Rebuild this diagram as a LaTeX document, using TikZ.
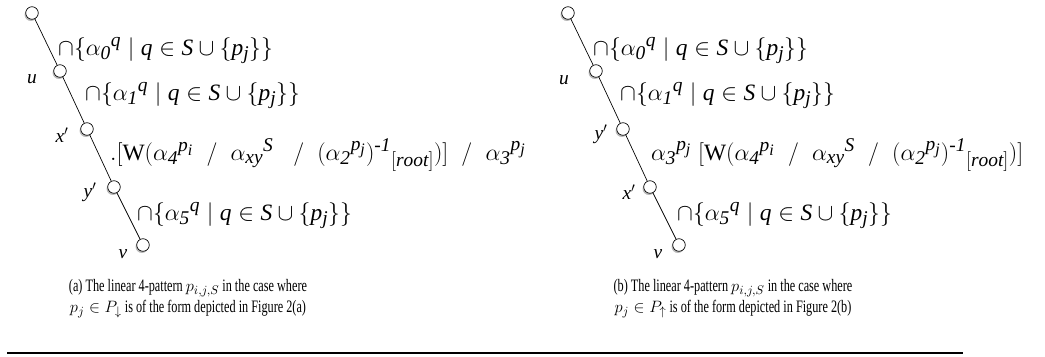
\documentclass[tikz,border=0pt]{standalone}
\usepackage{amsmath,amssymb}
\usepackage{fontspec}
\setmainfont{Liberation Serif}
\newfontfamily\capfont[FakeStretch=0.7]{Liberation Serif}
\usepackage{tikz}
\usetikzlibrary{shadows}
\DeclareMathSizes{20.5}{20.5}{17}{14}

\begin{document}
\begin{tikzpicture}[
  x=0.875pt, y=-0.875pt,
  vertex/.style={circle, draw, fill=white, line width=0.6pt,
    minimum size=11pt, inner sep=0pt,
    drop shadow={shadow xshift=-1pt, shadow yshift=-1.5pt, opacity=0.55}},
  vname/.style={font=\fontsize{17}{19}\selectfont\itshape, inner sep=0pt},
  elabel/.style={anchor=base west, font=\fontsize{20.5}{22}\selectfont, inner sep=0pt},
  edge/.style={line width=0.6pt},
  caption/.style={align=center, font=\capfont\fontsize{15.3}{18.5}\selectfont, inner sep=0pt},
]
\useasboundingbox (0,0) rectangle (1045,356);

% (a): x' above y'
\node[vertex] at (32,13) (atop) {};
\node[vertex] at (60,71) (au) {};
\node[vertex] at (87,129) (ax) {};
\node[vertex] at (114,187) (ay) {};
\node[vertex] at (143,245) (av) {};

\node[vname] at (32,79) (lau) {u};
\node[vname] at (62,135) (lax) {x$'$};
\node[vname] at (90,192) (lay) {y$'$};
\node[vname] at (123,254) (lav) {v};

\draw[edge] (atop) -- (au);
\draw[edge] (au) -- (ax);
\draw[edge] (ax) -- (ay);
\draw[edge] (ay) -- (av);

\node[elabel] at (58,55) (ea0) {$\mathit{\cap\{{\alpha_0}^q \mid q \in S \cup \{p_j\}\}}$};
\node[elabel] at (85,100) (ea1) {$\mathit{\cap\{{\alpha_1}^q \mid q \in S \cup \{p_j\}\}}$};
\node[elabel] at (110,160) (ea2) {$\mathit{.[\mathrm{W}({\alpha_4}^{p_i}\;\;/\;\;{\alpha_{xy}}^S\;\;\;/\;\;({\alpha_2}^{p_j})^{\textit{-1}}{}_{[root]})]\;\;/\;\;{\alpha_3}^{p_j}}$};
\node[elabel] at (137,220) (ea3) {$\mathit{\cap\{{\alpha_5}^q \mid q \in S \cup \{p_j\}\}}$};

% (b): y' above x'
\node[vertex] at (568,13) (btop) {};
\node[vertex] at (596,71) (bu) {};
\node[vertex] at (623,129) (by) {};
\node[vertex] at (650,187) (bx) {};
\node[vertex] at (679,245) (bv) {};

\node[vname] at (564,80) (lbu) {u};
\node[vname] at (601,134) (lby) {y$'$};
\node[vname] at (629,192) (lbx) {x$'$};
\node[vname] at (658,254) (lbv) {v};

\draw[edge] (btop) -- (bu);
\draw[edge] (bu) -- (by);
\draw[edge] (by) -- (bx);
\draw[edge] (bx) -- (bv);

\node[elabel] at (593,55) (eb0) {$\mathit{\cap\{{\alpha_0}^q \mid q \in S \cup \{p_j\}\}}$};
\node[elabel] at (620,100) (eb1) {$\mathit{\cap\{{\alpha_1}^q \mid q \in S \cup \{p_j\}\}}$};
\node[elabel] at (651,160) (eb2) {$\mathit{{\alpha_3}^{p_j}\;[\mathrm{W}({\alpha_4}^{p_i}\;\;/\;\;{\alpha_{xy}}^S\;\;/\;\;({\alpha_2}^{p_j})^{\textit{-1}}{}_{[root]})]}$};
\node[elabel] at (677,220) (eb3) {$\mathit{\cap\{{\alpha_5}^q \mid q \in S \cup \{p_j\}\}}$};

% Captions
\node[caption] at (188,299) (capa) {(a) The linear 4-pattern $p_{i,j,S}$ in the case where\\
  $p_j \in P_\downarrow$ is of the form depicted in Figure 2(a)};
\node[caption] at (733,299) (capb) {(b) The linear 4-pattern $p_{i,j,S}$ in the case where\\
  $p_j \in P_\uparrow$ is of the form depicted in Figure 2(b)};

% Rule below the figure
\coordinate (rulel) at (7,353);
\coordinate (ruler) at (963,353);
\draw[line width=1.7pt] (rulel) -- (ruler);

\end{tikzpicture}
\end{document}
